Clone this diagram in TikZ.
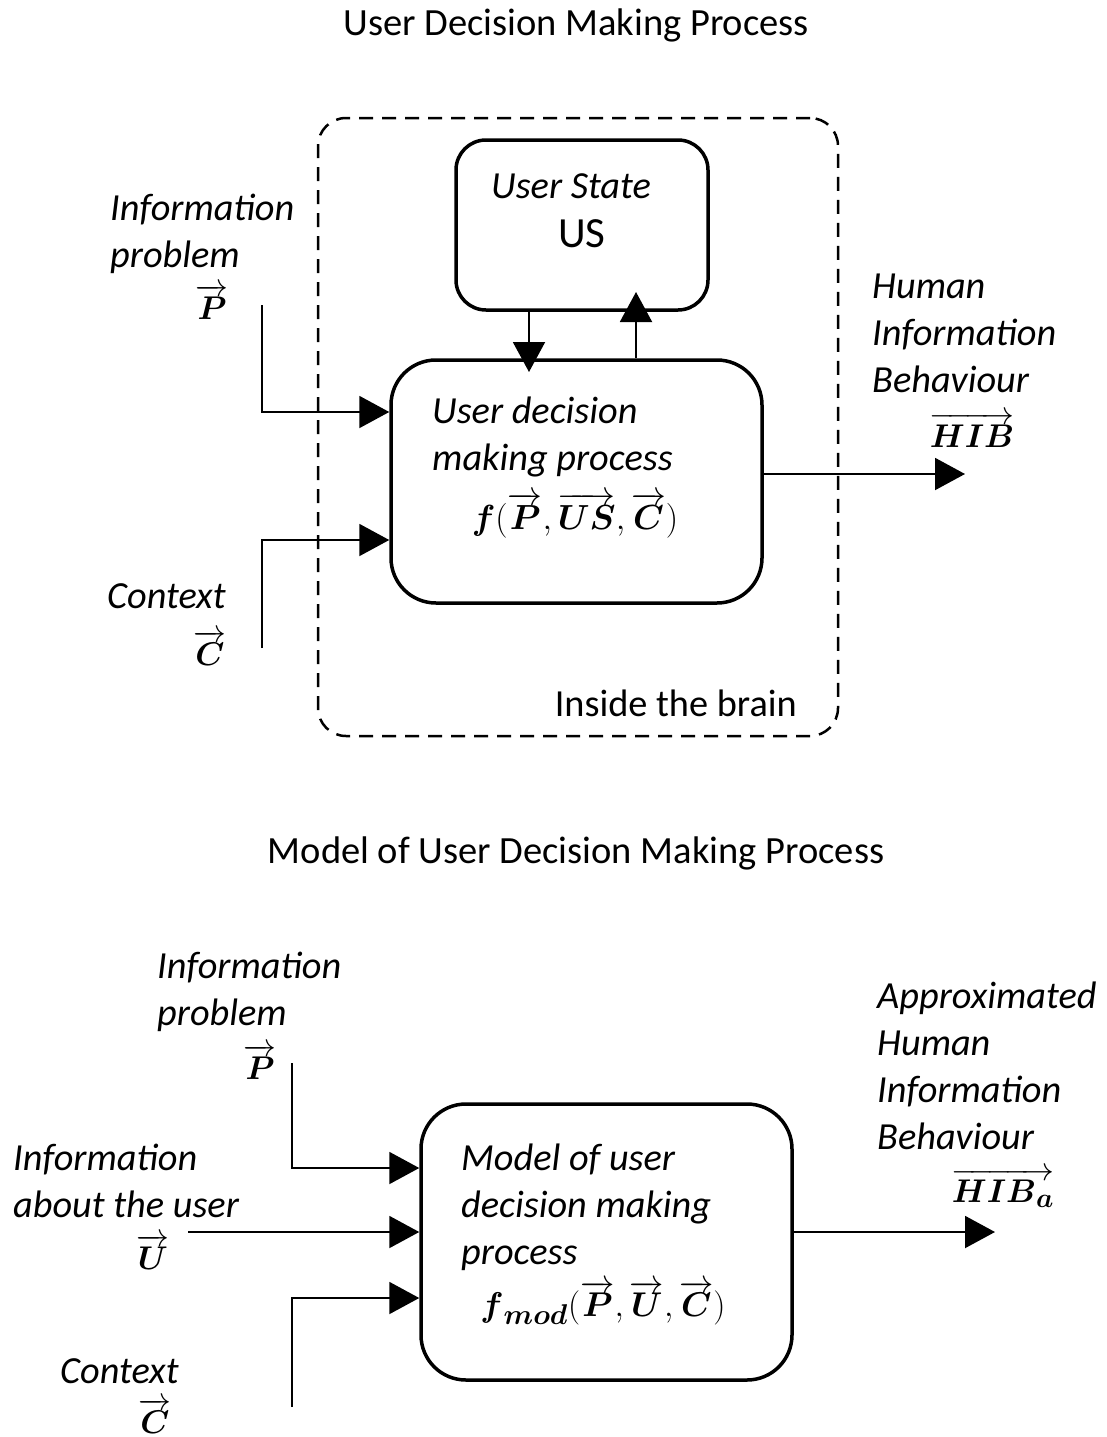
\documentclass[tikz,border=0pt]{standalone}
\usepackage{amsmath}
\usepackage{graphicx}
\usepackage{fontspec}
\setmainfont{Carlito}
\usetikzlibrary{arrows.meta}

% bold vector symbol with a long arrow above
\newcommand{\bvec}[1]{\overrightarrow{\boldsymbol{#1}}}
% math set at the largest design size, then scaled up
\newcommand{\bigmath}[2]{\scalebox{#1}{\fontsize{24.88}{28}\selectfont$#2$}}

\begin{document}
\begin{tikzpicture}[x=1pt,y=-1pt,
  lbl/.style={font=\fontsize{38.3}{47}\selectfont\itshape, align=left, inner sep=0pt, anchor=north west},
  vecl/.style={inner sep=0pt},
  formula/.style={inner sep=0pt},
  heading/.style={font=\fontsize{38.5}{44}\selectfont, inner sep=0pt},
  procbox/.style={draw, line width=3.5pt, rounded corners=45pt, minimum width=371pt, inner sep=0pt},
  statebox/.style={draw, line width=3.5pt, rounded corners=30pt, minimum width=252pt, minimum height=170pt, inner sep=0pt},
  brainbox/.style={draw, line width=2.5pt, dash pattern=on 14pt off 9pt, rounded corners=28pt, minimum width=520pt, minimum height=618pt, inner sep=0pt},
  flow/.style={line width=2pt, -{Triangle[length=30pt,width=32pt]}}
]
\useasboundingbox (0,0) rectangle (1107,1437);

% ---------- upper diagram ----------
\node[heading] (title1) at (576,25) {User Decision Making Process};

\node[brainbox] (brain) at (578,427) {};
\node[font=\fontsize{38.3}{44}\selectfont, anchor=base east, inner sep=0pt] (brainlbl) at (797,716) {Inside the brain};

\node[statebox] (us) at (582,225) {};
\node[font=\fontsize{38.3}{44}\selectfont\itshape, inner sep=0pt] (ustitle) at (571,186) {User State};
\node[font=\fontsize{43}{46}\selectfont, inner sep=0pt] (usname) at (582,234) {US};

\node[procbox, minimum height=243pt] (dm) at (576.5,481.5) {};
\node[lbl] (dmtxt) at (432,397) {User decision\\making process};
\node[formula] (dmf) at (575,515) {\bigmath{1.4}{\boldsymbol{f}(\bvec{P},\bvec{US},\bvec{C})}};

% inputs
\node[lbl] (plbl) at (110,194) {Information\\problem};
\node[vecl] (pvec) at (212,302) {\bigmath{1.32}{\bvec{P}}};
\node[lbl] (clbl) at (107,583) {Context};
\node[vecl] (cvec) at (210,648) {\bigmath{1.32}{\bvec{C}}};
\coordinate (pstart) at (262,305);
\coordinate (cstart) at (262,648);
\draw[flow] (pstart) |- (dm.west |- 0,412);
\draw[flow] (cstart) |- (dm.west |- 0,540);

% loop between state and process
\draw[flow] (us.south -| 529,0) -- (529,372);
\draw[flow] (dm.north -| 636,0) -- (636,292);

% output
\node[lbl] (hiblbl) at (872,274) {Human\\Information\\Behaviour};
\node[vecl] (hibvec) at (972,430) {\bigmath{1.32}{\bvec{HIB}}};
\coordinate (hibend) at (965,474);
\draw[flow] (dm.east |- 0,474) -- (hibend);

% ---------- lower diagram ----------
\node[heading] (title2) at (576,853) {Model of User Decision Making Process};

\node[procbox, minimum height=276pt] (mdl) at (606.5,1242) {};
\node[lbl] (mdltxt) at (461,1144) {Model of user\\decision making\\process};
\node[formula] (mdlf) at (603,1303) {\bigmath{1.38}{\boldsymbol{f}_{\boldsymbol{mod}}(\bvec{P},\bvec{U},\bvec{C})}};

\node[lbl] (p2lbl) at (157,952) {Information\\problem};
\node[vecl] (p2vec) at (260,1062) {\bigmath{1.32}{\bvec{P}}};
\node[lbl] (ulbl) at (13,1144) {Information\\about the user};
\node[vecl] (uvec) at (153,1252) {\bigmath{1.32}{\bvec{U}}};
\node[lbl] (c2lbl) at (60,1358) {Context};
\node[vecl] (c2vec) at (155,1416) {\bigmath{1.32}{\bvec{C}}};

\coordinate (p2start) at (292,1063);
\coordinate (ustart) at (188,1232);
\coordinate (c2start) at (292,1407);
\draw[flow] (p2start) |- (mdl.west |- 0,1168);
\draw[flow] (ustart) -- (mdl.west |- 0,1232);
\draw[flow] (c2start) |- (mdl.west |- 0,1298);

\node[lbl] (hibalbl) at (877,982) {Approximated\\Human\\Information\\Behaviour};
\node[vecl] (hibavec) at (1003,1188) {\bigmath{1.32}{\overrightarrow{\boldsymbol{HIB}_{\boldsymbol{a}}}}};
\coordinate (hibaend) at (995,1232);
\draw[flow] (mdl.east |- 0,1232) -- (hibaend);
\end{tikzpicture}
\end{document}
